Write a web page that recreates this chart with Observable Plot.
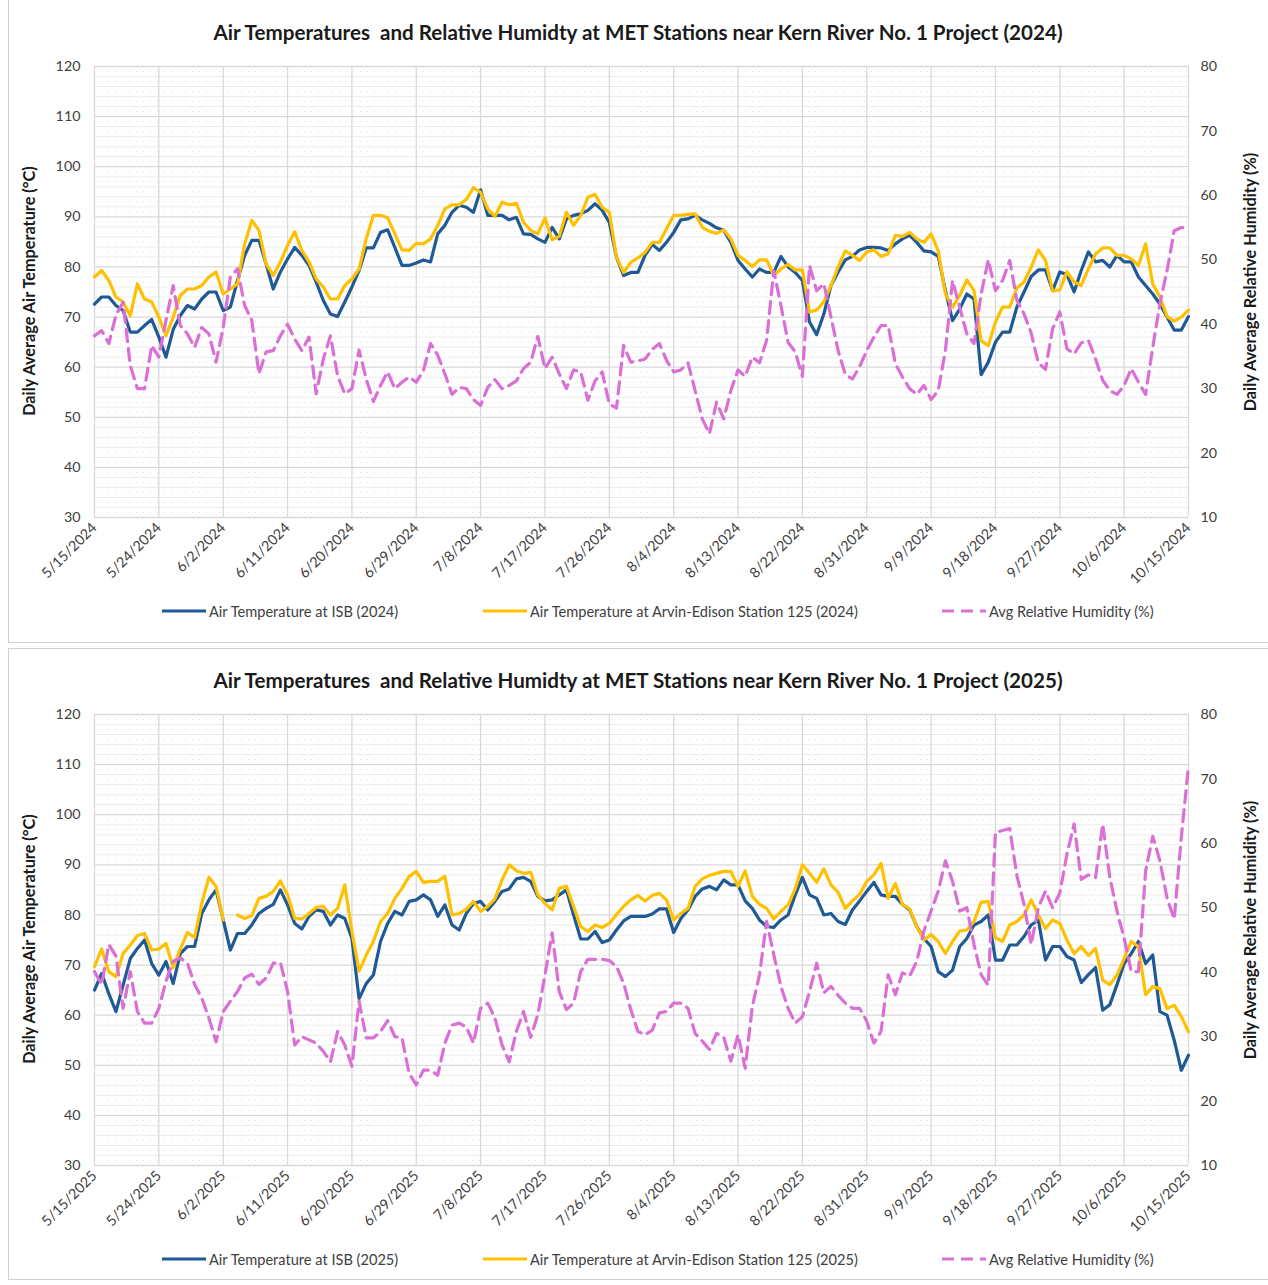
<!DOCTYPE html>
<html><head><meta charset="utf-8">
<script src="https://cdn.jsdelivr.net/npm/d3@7"></script>
<script src="https://cdn.jsdelivr.net/npm/@observablehq/plot@0.6"></script>
<style>
body{margin:0;background:#fff;font-family:Lato,"Open Sans",sans-serif;color:#262626;}
#page{position:relative;width:1268px;height:1285px;overflow:hidden;}
.box{position:absolute;border:1px solid #cfcfcf;box-sizing:border-box;}
.title{position:absolute;left:8px;width:1260px;text-align:center;font-weight:bold;font-size:20.6px;white-space:pre;line-height:24px;color:#1a1a1a;}
.ylab{position:absolute;font-weight:bold;font-size:16.3px;white-space:nowrap;transform:translate(-50%,-50%) rotate(-90deg);color:#1a1a1a;}
.plot{position:absolute;left:0;}
.leg{position:absolute;display:flex;align-items:center;font-size:14.6px;white-space:nowrap;color:#404040;}
.leg svg{margin-right:3px;}
</style></head>
<body><div id="page"></div>
<script>
// ---- data ----
const tickStep = 9; // days between x tick labels
const leftTicks = [30,40,50,60,70,80,90,100,110,120];
const rightTicks = [10,20,30,40,50,60,70,80];

const isb2024 = [72.6,74,74,72.3,71.3,67,67,68.3,69.5,66, 62,67.5,70.3,72.3,71.6,73.6,75,75,71.3,72, 77.3,82.3,85.3,85.3,80.6,75.6,79,81.6,83.9,82.3, 80.3,77,73.3,70.6,70.1,73,76,79.3,83.8,83.8, 86.9,87.4,83.9,80.3,80.3,80.8,81.4,81,86.6,88.3, 90.9,92.3,91.9,90.9,95.4,90.3,90.3,90.3,89.4,89.9, 86.6,86.5,85.6,84.9,87.9,85.6,89.6,90.3,90.6,91.3, 92.6,91.3,88.9,81.9,78.3,78.9,78.9,82.3,84.5,83.3, 84.9,86.9,89.4,89.6,90.3,89.4,88.7,87.8,87.3,84.9, 81.3,79.6,78,79.6,78.9,78.9,82.1,80,78.9,77.3, 69,66.5,70.6,76.3,79,81.4,82.1,83.4,83.9,83.9, 83.8,83.3,84.6,85.6,86.3,84.9,83.2,83,82.1,75.3, 69.3,71.6,74.6,73.6,58.5,61,65,67,67,72, 75,78.1,79.4,79.4,75.3,79,78.5,75,79.3,83, 81,81.3,80,82.3,81,81,78,76.3,74.6,72.6, 70,67.4,67.4,70.1];
const arvin2024 = [78,79.3,77.3,74,73,70.3,76.6,73.6,73,70, 66.3,70,74.3,75.6,75.6,76.3,78,79,74.6,75.6, 76.6,84.6,89.3,87.3,80.6,78.3,81,84.3,87,83.3, 81,77.6,76,73.6,73.6,76.3,77.6,79.6,85.6,90.3, 90.3,89.8,86.6,83.4,83.3,84.7,84.6,85.6,88.3,91.6, 92.4,92.4,93.5,95.8,94.9,91.6,90.1,92.9,92.4,92.7, 88.9,87.3,86.6,89.8,85.4,86.1,90.9,88.3,90.3,93.9, 94.5,91.9,90.9,81.9,78.9,80.9,81.8,82.9,84.9,84.9, 87.6,90.3,90.3,90.5,90.6,87.9,87.1,86.7,87.4,85.6, 82.3,81.3,80.1,81.4,81.4,78.3,79.6,80.5,79.4,79.4, 71,71.4,73,76.3,80,83.2,82.3,81.3,83,83.4, 82.1,82.6,86.3,86.1,86.9,85.6,84.9,86.6,83.2,74.6, 72,74.3,77.4,75.3,65.3,64.3,69,72,72,75.8, 77,80,83.4,81.3,75.2,75.4,79,77,76.3,79.6, 82.6,83.8,83.8,82.3,82.3,81.6,80.3,84.6,76.6,74, 70.1,69.2,70,71.4];
const rh2024 = [38.2,39,37,41.4,43.4,33.6,30,30,36.7,34.9, 40.6,46,39.8,38.5,36.4,39.5,38.5,34.1,39.5,47.3, 48.6,42.9,40.6,32.3,35.7,35.9,38.2,40,37.7,35.9, 38,29.2,34.6,38.2,32,29.2,30,36,31.5,28, 30.5,32.6,30,31,31.8,31,32.8,37,35.2,32.3, 29.1,30.2,30,28.3,27.4,30.2,31.4,30,30.5,31.2, 33.1,34.1,38.1,33.1,34.9,32.3,30,32.9,32.6,28.2, 31.2,32.6,27.6,27,36.7,34.1,34.3,34.6,36.1,37, 34.4,32.6,32.9,34,29.7,25.3,23,27.9,25.3,29.7, 32.9,31.9,34.9,34,37.5,48.3,42.9,37.2,35.7,31.9, 49.1,45.2,46.3,41.1,35.9,32.2,31.5,33.4,35.9,38, 39.8,39.8,33.9,31.8,30,29.1,30.5,28.3,29.7,35.9, 46.8,42.6,38.5,37,44.7,50,45.2,46.8,49.9,43.7, 41.6,38.6,34,33,39.3,41.9,36.2,35.4,37.1,37.5, 34.6,31.3,29.7,29.1,30.5,33.1,31,29.1,36.4,43.2, 48.3,54.5,55,55];

const isb2025 = [65,68.3,64.3,60.7,66,71.3,73.3,75,70.3,68, 70.7,66.3,72.3,73.7,73.7,80.3,83,85,79,73, 76.3,76.3,78,80.3,81.3,82.1,85,82,78.3,77.2, 79.7,81,80.7,78,80,79.3,75.3,63.3,66.3,68, 74.7,78.3,80.7,80,82.7,83,84,83,79.7,82, 78,77,80.3,82.3,82.7,81,82.7,84.7,85.2,87.2, 87.5,86.7,83.7,82.8,83,84,85,80,75.2,75.2, 76.7,74.5,75,77,78.8,79.7,79.7,79.7,80.2,81.2, 81.2,76.5,79.3,81,83.7,85.2,85.7,85,87,86, 86,82.8,81.3,79,77.7,77.5,79,80,84,87.5, 84,83.3,80,80.3,78.7,78.1,81,82.8,84.7,86.5, 84,83.7,83.7,82.1,81,77.7,75.3,73.7,68.7,67.7, 69,73.7,75.3,78,78.7,80,71,71,74,74, 75.7,78,79,71,73.7,73.7,71.7,71,66.5,68.1, 69.5,61,62.1,66.1,70.3,72.3,74.7,70.3,72,60.7, 60,55,49,52];
const arvin2025 = [69.7,73.2,68.7,67.7,72.3,74,75.9,76.3,73,73.2, 74.3,69.5,73.2,76.5,75.5,82.3,87.5,85.7,79,null, 80,79.3,79.9,83.3,83.7,84.7,86.8,84,79.3,79.2, 80.3,81.5,81.7,80,81.3,86,76.7,68.8,72,74.7, 78.7,80.3,83.3,85.3,87.7,88.7,86.5,86.7,86.7,87.7, 80,80.3,81.1,82.7,80.7,81.7,83.2,87,90,88.8, 88.3,88.5,84,82.3,81,85.3,85.7,81.7,77.7,76.7, 78,77.5,78.3,80.1,81.7,83,83.9,82.8,83.9,84.3, 83,79,80.3,81.3,85.7,87.2,87.9,88.3,88.7,88.7, 85.7,88.8,83.7,82.1,81.3,79.2,80.7,82,85.2,90, 88.3,86.5,89.2,86,84.5,81.3,82.8,84.1,86.7,88, 90.3,83.3,86.3,82.1,81.2,77.7,75,76.1,74.7,72.3, 74.7,76.8,77,78.7,82.5,82.7,75.5,74.7,78,78.7, 80,83,80,77.3,79,78.3,75,72.3,73.7,71.9, 73.3,67,66.1,68,71.3,74.7,73.7,64.1,65.7,65.3, 61.3,62,59.7,56.7];
const rh2025 = [40.1,38.1,44.3,42.5,34.4,40.1,33.9,32.1,32.1,34.4, 38.6,41.7,42.2,41.4,38.1,36,32.9,29.2,33.9,35.5, 37,39.1,39.7,38.1,39.1,41.4,41.5,37,28.7,30, 29.5,29,27.7,26.1,30.8,28.7,25.4,35.5,29.8,29.8, 30.8,32.5,30,29.8,24.3,22.5,24.8,24.8,24,29, 31.8,32.1,31.5,29,34.4,35.2,32.9,28.7,26.1,30.8, 33.9,29.9,33.4,39.6,46.1,37,34.2,35.2,40.1,42, 42,42,41.8,40.9,38.3,34.2,30.8,30.3,31,33.7, 33.9,35.2,35.2,34.4,30.5,29.3,28,30.5,29.9,26.2, 30.3,25.1,34.7,39.6,47.9,42.7,37.8,34.4,32.1,33.1, 37,41.4,36.8,37.8,36.4,35.2,34.4,34.4,32.4,29, 30.8,39.6,36.5,39.9,39.4,41.7,46.4,49.5,52.6,57.3, 54.1,49.5,50,44.3,39.6,38,61.7,62,62.3,55, 50.5,44.3,50,52.6,50,52.3,58.3,63,54.4,55.1, 54.7,63,54.7,49.5,45.3,40.1,40.1,55.7,61.1,57.3, 51.5,48.2,61,72];

const seriesNames = ["Air Temperature at ISB", "Air Temperature at Arvin-Edison Station 125", "Avg Relative Humidity (%)"];
const colors = {isb:"#1F5A96", arvin:"#FFC000", rh:"#DA70D6"};

// ---- helpers ----
const page = document.getElementById("page");
const DAY = 864e5;
const toT = h => 30 + (h - 10) * 90 / 70;      // humidity -> primary axis units
const fromT = t => 10 + (t - 30) * 70 / 90;
const fmtDate = d => `${d.getUTCMonth()+1}/${d.getUTCDate()}/${d.getUTCFullYear()}`;

function el(tag, cls, style, text){
  const e = document.createElement(tag);
  if (cls) e.className = cls;
  Object.assign(e.style, style || {});
  if (text != null) e.textContent = text;
  page.appendChild(e);
  return e;
}

function panel(year, isb, arvin, rh, y0){
  const start = new Date(Date.UTC(year, 4, 15));
  const n = isb.length;
  const data = isb.map((v, i) => ({date: new Date(start.getTime() + i*DAY), isb: v, arvin: arvin[i], rh: rh[i]}));
  const end = data[n-1].date;
  const tickDates = d3.range(0, n, tickStep).map(i => data[i].date);

  el("div", "box", {left:"8px", top:(y0 - (year===2024?2:0))+"px", width:"1262px", height:(year===2024?645:632)+"px"});
  el("div", "title", {top:(y0+20)+"px"}, `Air Temperatures  and Relative Humidty at MET Stations near Kern River No. 1 Project (${year})`);

  const svgTop = y0 + 46;
  const chart = Plot.plot({
    width: 1268, height: 554,
    marginLeft: 94, marginRight: 80, marginTop: 20, marginBottom: 83,
    style: {fontFamily: "Lato, 'Open Sans', sans-serif", fontSize: "14.3px", color: "#404040", background: "transparent"},
    x: {type: "utc", domain: [start, end]},
    y: {domain: [30, 120]},
    marks: [
      Plot.ruleY(d3.range(31, 120, 2), {stroke: "#dcdcdc", strokeDasharray: "1,6", strokeWidth: 1}),
      Plot.ruleY(d3.range(32, 120, 2).filter(v => v % 10 !== 0), {stroke: "#ededed", strokeWidth: 1}),
      Plot.ruleY(leftTicks, {stroke: "#d9d9d9", strokeWidth: 1.3}),
      Plot.ruleX(tickDates, {stroke: "#d9d9d9", strokeWidth: 1.3}),
      Plot.axisY({ticks: leftTicks, tickSize: 0, tickPadding: 14, fill: "#404040"}),
      Plot.axisY({anchor: "right", ticks: rightTicks.map(toT), tickFormat: t => Math.round(fromT(t)), tickSize: 0, tickPadding: 12, fill: "#404040"}),
      Plot.axisX({ticks: tickDates, tickFormat: fmtDate, tickRotate: -45, tickSize: 0, tickPadding: 8, fill: "#404040"}),
      Plot.line(data, {x: "date", y: "isb", stroke: colors.isb, strokeWidth: 3.2, strokeLinejoin: "round"}),
      Plot.line(data, {x: "date", y: "arvin", stroke: colors.arvin, strokeWidth: 3.2, strokeLinejoin: "round"}),
      Plot.line(data, {x: "date", y: d => toT(d.rh), stroke: colors.rh, strokeWidth: 3.2, strokeDasharray: "12,7", strokeLinejoin: "round"})
    ]
  });
  chart.classList.add("plot");
  chart.style.top = svgTop + "px";
  page.appendChild(chart);

  const midY = svgTop + 20 + 451/2;
  el("div", "ylab", {left:"28px", top:(midY-1)+"px"}, "Daily Average Air Temperature (°C)");
  el("div", "ylab", {left:"1249px", top:(midY-10)+"px"}, "Daily Average Relative Humidity (%)");

  // legend
  const legY = y0 + 611;
  const items = [
    {x: 162, name: `${seriesNames[0]} (${year})`, color: colors.isb, dash: null},
    {x: 483, name: `${seriesNames[1]} (${year})`, color: colors.arvin, dash: null},
    {x: 942, name: seriesNames[2], color: colors.rh, dash: "12,7"}
  ];
  for (const it of items){
    const d = el("div", "leg", {left: it.x+"px", top: (legY-10)+"px", height:"20px"});
    d.innerHTML = `<svg width="44" height="10"><line x1="0" x2="44" y1="5" y2="5" stroke="${it.color}" stroke-width="3.2" ${it.dash?`stroke-dasharray="${it.dash}"`:""}/></svg><span>${it.name}</span>`;
  }
}

panel(2024, isb2024, arvin2024, rh2024, 0);
panel(2025, isb2025, arvin2025, rh2025, 648);
</script>
</body></html>
